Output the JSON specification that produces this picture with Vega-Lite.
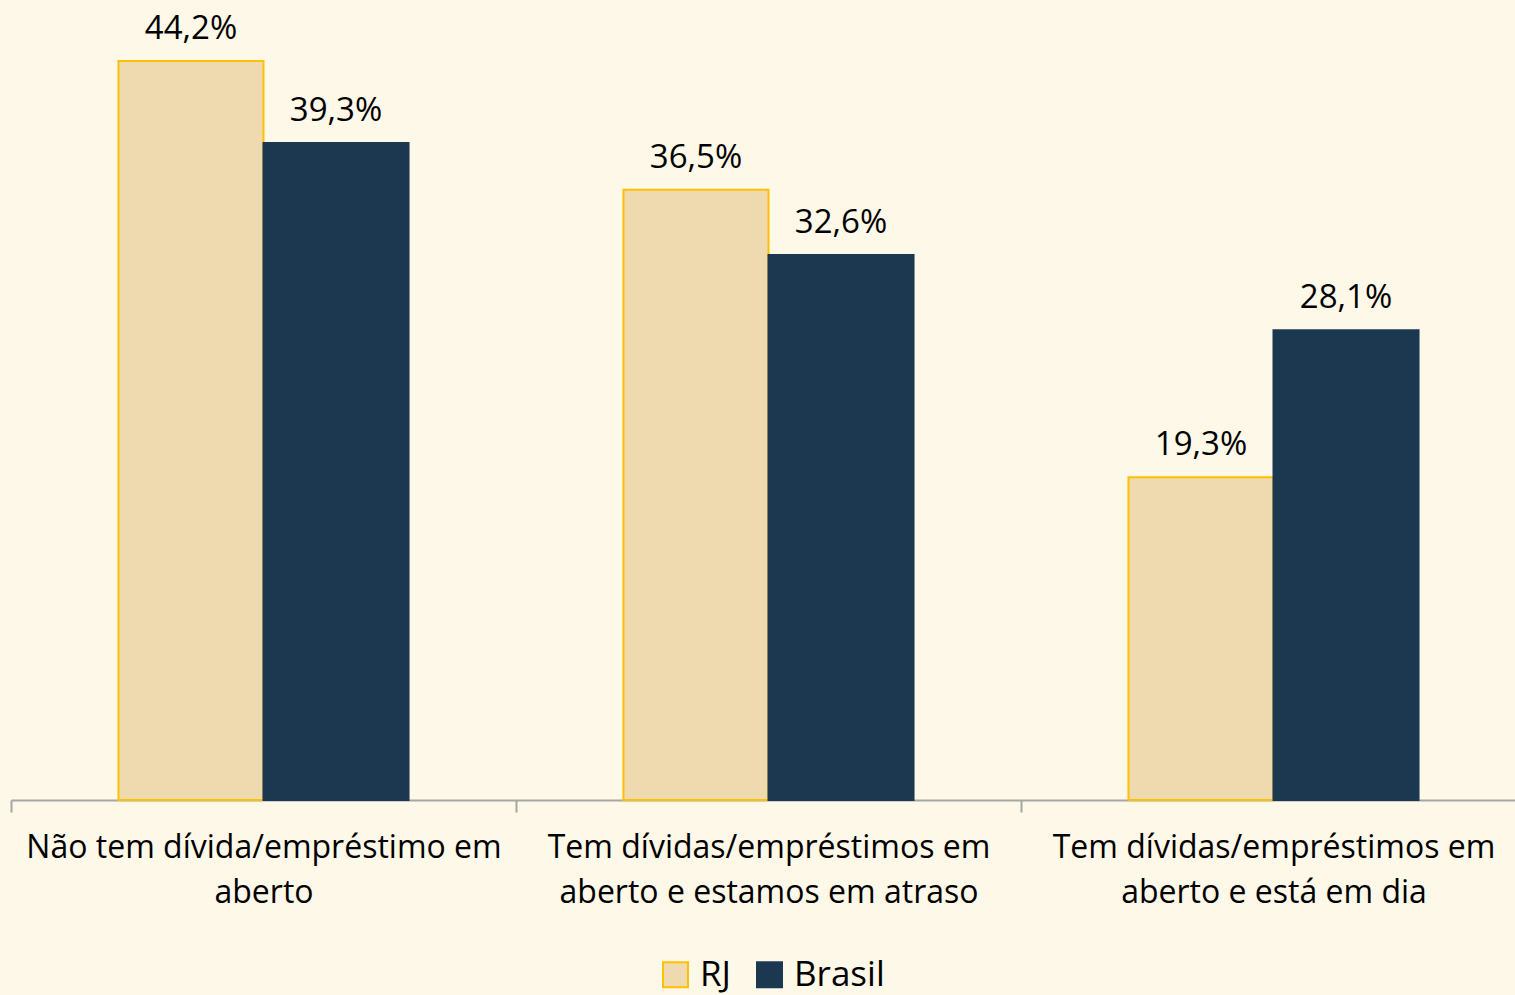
{
  "$schema": "https://vega.github.io/schema/vega-lite/v6.json",
  "width": 1504,
  "height": 800,
  "autosize": {"type": "none"},
  "padding": {"left": 11, "top": 0, "right": 0, "bottom": 195},
  "background": "#FEF8E8",
  "config": {
    "view": {"stroke": null},
    "font": "Open Sans",
    "locale": {"number": {"decimal": ",", "thousands": ".", "grouping": [3], "currency": ["R$", ""]}}
  },
  "data": {
    "values": [
      {"cat": "Não tem dívida/empréstimo em|aberto", "serie": "RJ", "valor": 0.442},
      {"cat": "Não tem dívida/empréstimo em|aberto", "serie": "Brasil", "valor": 0.393},
      {"cat": "Tem dívidas/empréstimos em|aberto e estamos em atraso", "serie": "RJ", "valor": 0.365},
      {"cat": "Tem dívidas/empréstimos em|aberto e estamos em atraso", "serie": "Brasil", "valor": 0.326},
      {"cat": "Tem dívidas/empréstimos em|aberto e está em dia", "serie": "RJ", "valor": 0.193},
      {"cat": "Tem dívidas/empréstimos em|aberto e está em dia", "serie": "Brasil", "valor": 0.281}
    ]
  },
  "encoding": {
    "x": {
      "field": "cat",
      "type": "nominal",
      "sort": null,
      "scale": {"range": [0, 1515], "paddingInner": 0, "paddingOuter": 0},
      "axis": {
        "title": null,
        "labelAngle": 0,
        "labelExpr": "split(datum.label, '|')",
        "labelFontSize": 32,
        "labelColor": "#000000",
        "labelLineHeight": 45,
        "labelPadding": 20,
        "labelLimit": 0,
        "domainColor": "#A6A6A6",
        "domainWidth": 2,
        "tickColor": "#A6A6A6",
        "tickWidth": 2,
        "tickSize": 12,
        "tickBand": "extent"
      }
    },
    "xOffset": {
      "field": "serie",
      "type": "nominal",
      "sort": ["RJ", "Brasil"],
      "scale": {"paddingInner": 0, "paddingOuter": 0.741}
    },
    "y": {
      "field": "valor",
      "type": "quantitative",
      "scale": {"domain": [0, 0.4785], "nice": false},
      "axis": null
    }
  },
  "layer": [
    {
      "mark": {"type": "bar", "strokeWidth": 2},
      "encoding": {
        "color": {
          "field": "serie",
          "type": "nominal",
          "sort": ["RJ", "Brasil"],
          "scale": {"domain": ["RJ", "Brasil"], "range": ["#EFD9AE", "#1C3851"]},
          "legend": {
            "title": null,
            "orient": "none",
            "legendX": 647,
            "legendY": 957,
            "direction": "horizontal",
            "symbolType": "square",
            "symbolSize": 625,
            "symbolStrokeWidth": 2,
            "labelFontSize": 35,
            "labelColor": "#000000",
            "columnPadding": 20,
            "labelOffset": 7
          }
        },
        "stroke": {
          "field": "serie",
          "type": "nominal",
          "sort": ["RJ", "Brasil"],
          "scale": {"domain": ["RJ", "Brasil"], "range": ["#FFC000", "#1C3851"]}
        }
      }
    },
    {
      "mark": {"type": "text", "baseline": "alphabetic", "dy": -22, "fontSize": 33, "color": "#000000"},
      "encoding": {
        "text": {"field": "valor", "type": "quantitative", "format": ".1%"}
      }
    }
  ]
}
